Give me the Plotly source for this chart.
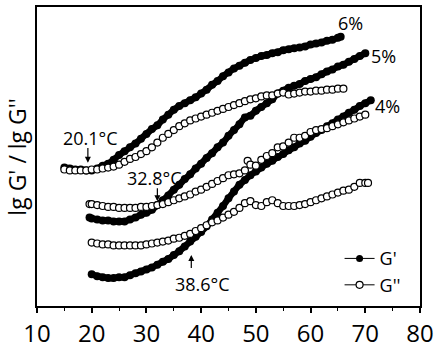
import plotly.graph_objects as go

# ---- data (y in arbitrary lg units) ----
t6_gp = [15, 16, 17, 18, 19, 20, 21, 22, 23, 24, 25, 26, 27, 28, 29, 30, 31, 32, 33, 34, 35, 36, 37, 38, 39, 40,
         41, 42, 43, 44, 45, 46, 47, 48, 49, 50, 51, 52, 53, 54, 55, 56, 57, 58, 59, 60, 61, 62, 63, 64, 65, 65.5]
y6_gp = [1.44, 1.43, 1.42, 1.42, 1.41, 1.41, 1.43, 1.46, 1.48, 1.52, 1.57, 1.61, 1.65, 1.69, 1.74, 1.79, 1.84, 1.88,
         1.94, 1.99, 2.04, 2.08, 2.11, 2.14, 2.17, 2.21, 2.25, 2.30, 2.34, 2.39, 2.43, 2.47, 2.50, 2.53, 2.56, 2.58,
         2.60, 2.61, 2.63, 2.64, 2.66, 2.67, 2.68, 2.69, 2.70, 2.72, 2.73, 2.74, 2.76, 2.77, 2.79, 2.80]

t6_gpp = [15, 16, 17, 18, 19, 20, 21, 22, 23, 24, 25, 26, 27, 28, 29, 30, 31, 32, 33, 34, 35, 36, 37, 38, 39, 40,
          41, 42, 43, 44, 45, 46, 47, 48, 49, 50, 51, 52, 53, 54, 55, 56, 57, 58, 59, 60, 61, 62, 63, 64, 65, 66]
y6_gpp = [1.42, 1.41, 1.41, 1.41, 1.41, 1.42, 1.42, 1.43, 1.44, 1.45, 1.47, 1.50, 1.53, 1.55, 1.58, 1.61, 1.65, 1.70,
          1.75, 1.79, 1.83, 1.87, 1.90, 1.93, 1.95, 1.97, 1.99, 2.01, 2.03, 2.05, 2.07, 2.09, 2.11, 2.13, 2.15, 2.16,
          2.18, 2.19, 2.19, 2.21, 2.22, 2.20, 2.21, 2.22, 2.23, 2.23, 2.24, 2.24, 2.25, 2.25, 2.26, 2.26]

t5_gp = [19.6, 20, 21, 22, 23, 24, 25, 26, 27, 28, 29, 30, 31, 32, 33, 34, 35, 36, 37, 38, 39, 40, 41, 42, 43, 44,
         45, 46, 47, 48, 49, 50, 51, 52, 53, 54, 55, 56, 57, 58, 59, 60, 61, 62, 63, 64, 65, 66, 67, 68, 69, 70]
y5_gp = [0.92, 0.91, 0.90, 0.89, 0.89, 0.88, 0.88, 0.88, 0.90, 0.92, 0.95, 0.97, 1.00, 1.05, 1.10, 1.15, 1.21, 1.26,
         1.32, 1.37, 1.43, 1.48, 1.54, 1.59, 1.65, 1.70, 1.77, 1.83, 1.89, 1.96, 1.98, 2.03, 2.07, 2.11, 2.15, 2.21,
         2.24, 2.27, 2.29, 2.31, 2.34, 2.36, 2.38, 2.41, 2.44, 2.46, 2.49, 2.51, 2.54, 2.57, 2.60, 2.63]

t5_gpp = [19.6, 20, 21, 22, 23, 24, 25, 26, 27, 28, 29, 30, 31, 32, 33, 34, 35, 36, 37, 38, 39, 40, 41, 42, 43, 44,
          45, 46, 47, 48, 48.5, 49, 50, 51, 52, 53, 54, 55, 56, 57, 58, 59, 60, 61, 62, 63, 64, 65, 66, 67, 68, 69, 70]
y5_gpp = [1.06, 1.06, 1.05, 1.04, 1.03, 1.03, 1.02, 1.02, 1.02, 1.02, 1.03, 1.03, 1.04, 1.05, 1.06, 1.08, 1.10, 1.12,
          1.14, 1.16, 1.19, 1.21, 1.24, 1.27, 1.30, 1.33, 1.36, 1.37, 1.38, 1.41, 1.51, 1.47, 1.46, 1.52, 1.56, 1.59,
          1.65, 1.66, 1.70, 1.75, 1.75, 1.77, 1.81, 1.83, 1.84, 1.85, 1.87, 1.89, 1.91, 1.93, 1.95, 1.97, 1.99]

t4_gp = [20, 21, 22, 23, 24, 25, 26, 27, 28, 29, 30, 31, 32, 33, 34, 35, 36, 37, 38, 39, 40, 41, 42, 43, 44, 45,
         46, 47, 48, 49, 50, 51, 52, 53, 54, 55, 56, 57, 58, 59, 60, 61, 62, 63, 64, 65, 66, 67, 68, 69, 70, 71]
y4_gp = [0.33, 0.31, 0.30, 0.29, 0.29, 0.30, 0.30, 0.32, 0.34, 0.36, 0.38, 0.40, 0.43, 0.46, 0.49, 0.53, 0.57, 0.62,
         0.67, 0.72, 0.77, 0.83, 0.90, 0.97, 1.04, 1.12, 1.19, 1.26, 1.31, 1.36, 1.40, 1.44, 1.48, 1.51, 1.55, 1.58,
         1.62, 1.65, 1.69, 1.72, 1.76, 1.80, 1.83, 1.87, 1.90, 1.94, 1.97, 2.01, 2.04, 2.08, 2.11, 2.14]

t4_gpp = [20, 21, 22, 23, 24, 25, 26, 27, 28, 29, 30, 31, 32, 33, 34, 35, 36, 37, 38, 39, 40, 41, 42, 43, 44, 45,
          46, 47, 48, 49, 50, 51, 52, 53, 54, 55, 56, 57, 58, 59, 60, 61, 62, 63, 64, 65, 66, 67, 68, 69, 70, 70.5]
y4_gpp = [0.66, 0.65, 0.64, 0.64, 0.63, 0.63, 0.63, 0.63, 0.63, 0.63, 0.64, 0.65, 0.66, 0.67, 0.68, 0.70, 0.71, 0.73,
          0.75, 0.78, 0.81, 0.84, 0.87, 0.89, 0.92, 0.95, 0.98, 1.02, 1.07, 1.09, 1.05, 1.04, 1.08, 1.10, 1.07, 1.04,
          1.04, 1.04, 1.05, 1.06, 1.08, 1.10, 1.12, 1.14, 1.16, 1.18, 1.20, 1.21, 1.24, 1.28, 1.28, 1.28]

x_ticks = [10, 20, 30, 40, 50, 60, 70, 80]
conc_labels = ["6%", "5%", "4%"]
conc_label_pos = [(67.3, 2.94), (73.3, 2.60), (74.0, 2.08)]
cross_labels = ["20.1\u00b0C", "32.8\u00b0C", "38.6\u00b0C"]

FONT = "Open Sans"

fig = go.Figure()

filled = [(t6_gp, y6_gp), (t5_gp, y5_gp), (t4_gp, y4_gp)]
opened = [(t6_gpp, y6_gpp), (t5_gpp, y5_gpp), (t4_gpp, y4_gpp)]

for t, y in filled:
    fig.add_trace(go.Scatter(x=t, y=y, mode="lines+markers", showlegend=False,
                             line=dict(color="black", width=6.5, shape="spline", smoothing=0.6),
                             marker=dict(symbol="circle", size=8, color="black")))
for t, y in opened:
    fig.add_trace(go.Scatter(x=t, y=y, mode="markers", showlegend=False,
                             marker=dict(symbol="circle", size=7, color="white",
                                         line=dict(color="black", width=1.2))))

# legend entries
fig.add_trace(go.Scatter(x=[None], y=[None], mode="lines+markers", name="G'",
                         line=dict(color="black", width=1),
                         marker=dict(symbol="circle", size=7, color="black")))
fig.add_trace(go.Scatter(x=[None], y=[None], mode="lines+markers", name="G''",
                         line=dict(color="black", width=1),
                         marker=dict(symbol="circle", size=7, color="white",
                                     line=dict(color="black", width=1.2))))

# concentration labels
for lab, (lx, ly) in zip(conc_labels, conc_label_pos):
    fig.add_annotation(x=lx, y=ly, text=lab, showarrow=False,
                       font=dict(family=FONT, size=18, color="black"))

# crossover labels with arrows
fig.add_annotation(x=19.8, y=1.75, text=cross_labels[0], showarrow=False,
                   font=dict(family=FONT, size=18, color="black"))
fig.add_annotation(x=19.3, y=1.49, ax=19.3, ay=1.66, axref="x", ayref="y", text="",
                   showarrow=True, arrowhead=2, arrowsize=1, arrowwidth=1.2, arrowcolor="black")
fig.add_annotation(x=31.45, y=1.33, text=cross_labels[1], showarrow=False,
                   font=dict(family=FONT, size=18, color="black"))
fig.add_annotation(x=32.0, y=1.09, ax=32.0, ay=1.24, axref="x", ayref="y", text="",
                   showarrow=True, arrowhead=2, arrowsize=1, arrowwidth=1.2, arrowcolor="black")
fig.add_annotation(x=40.2, y=0.23, text=cross_labels[2], showarrow=False,
                   font=dict(family=FONT, size=18, color="black"))
fig.add_annotation(x=38.2, y=0.53, ax=38.2, ay=0.38, axref="x", ayref="y", text="",
                   showarrow=True, arrowhead=2, arrowsize=1, arrowwidth=1.2, arrowcolor="black")

# y-axis title
fig.add_annotation(xref="paper", yref="paper", x=-0.0545, y=0.5, text="lg G' / lg G''",
                   textangle=-90, showarrow=False, xanchor="center", yanchor="middle",
                   font=dict(family=FONT, size=23, color="black"))

fig.update_xaxes(range=[10, 80], tickvals=x_ticks, ticks="outside", ticklen=5, tickwidth=1.5,
                 tickcolor="black", showline=True, linewidth=2, linecolor="black", mirror=True,
                 showgrid=False, zeroline=False,
                 minor=dict(dtick=5, ticks="outside", ticklen=3, tickcolor="black", tickwidth=1),
                 tickfont=dict(family=FONT, size=24, color="black"))
fig.update_yaxes(range=[0, 3.11], showticklabels=False, ticks="", showline=True, linewidth=2,
                 linecolor="black", mirror=True, showgrid=False, zeroline=False)

fig.update_layout(width=439, height=354, margin=dict(l=37, r=17, t=5, b=38),
                  paper_bgcolor="white", plot_bgcolor="white",
                  legend=dict(x=0.79, y=0.22, xanchor="left", yanchor="top",
                              bgcolor="rgba(0,0,0,0)", font=dict(family=FONT, size=18, color="black"),
                              itemwidth=30, tracegroupgap=0))

fig.write_html("out.html")
